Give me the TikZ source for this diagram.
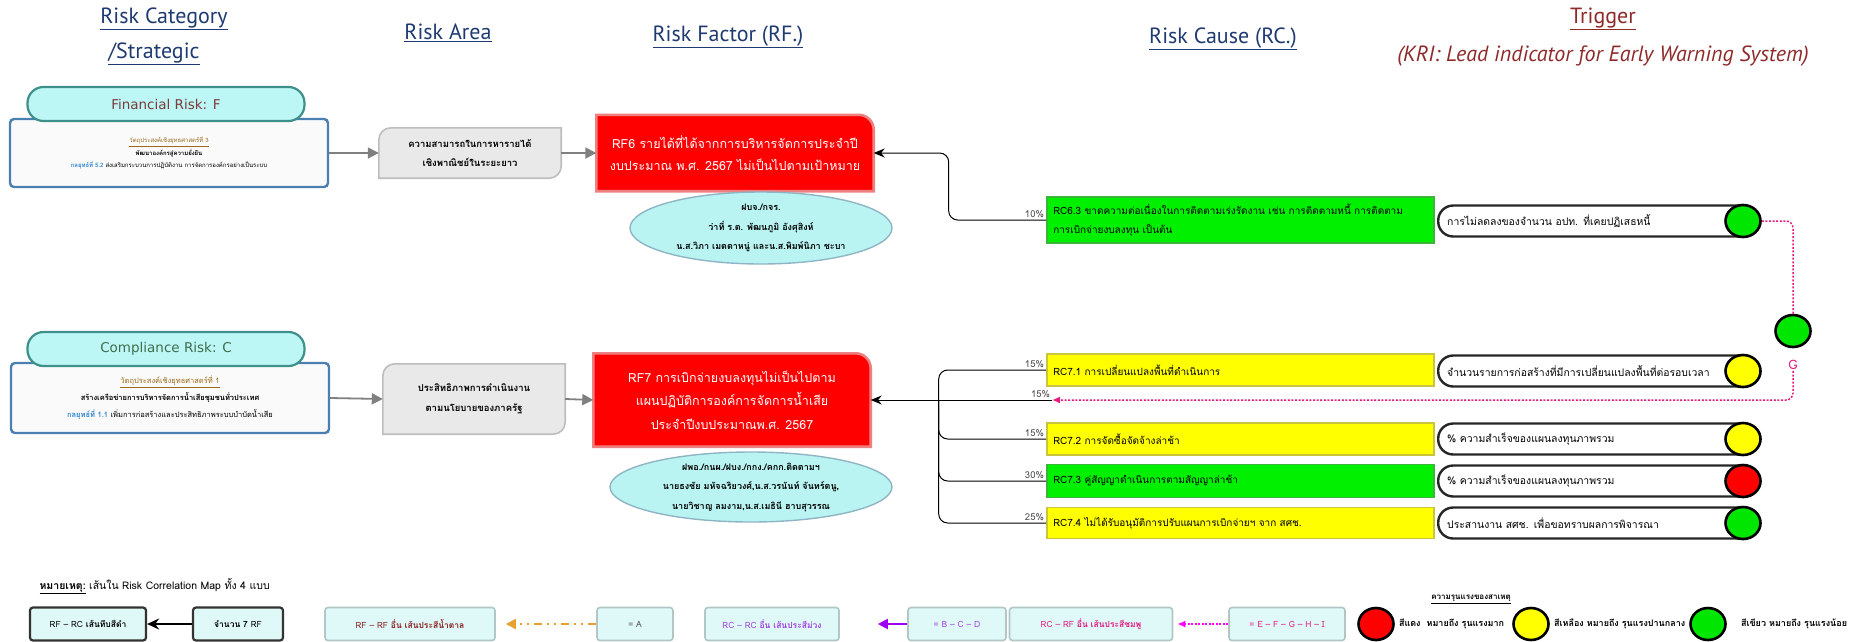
\documentclass[tikz,border=0pt]{standalone}
\usepackage{fontspec}
\setmainfont[Script=Thai]{Loma}
\newfontfamily\headfont{PT Sans}
\newfontfamily\pillfont{DejaVu Sans}
\usetikzlibrary{arrows.meta, backgrounds, shapes.geometric}

\definecolor{navy}{HTML}{1F3A70}
\definecolor{trigred}{HTML}{8E2A2A}
\definecolor{pillcyan}{HTML}{BDF7F5}
\definecolor{pilledge}{HTML}{3F8F8A}
\definecolor{boxedge}{HTML}{4A7FB0}
\definecolor{finred}{HTML}{7A3A3A}
\definecolor{compgreen}{HTML}{3E6E4E}
\definecolor{goldbrown}{HTML}{9C6A1A}
\definecolor{stratblue}{HTML}{2E86D1}
\definecolor{areafill}{HTML}{E9E9E9}
\definecolor{arealine}{HTML}{BDBDBD}
\definecolor{rfred}{HTML}{FF0000}
\definecolor{rfline}{HTML}{EE8080}
\definecolor{owncyan}{HTML}{B9F4F2}
\definecolor{ownline}{HTML}{8FB5C5}
\definecolor{rcyel}{HTML}{FFFF00}
\definecolor{rcyelline}{HTML}{C9C43C}
\definecolor{rcgrn}{HTML}{00F000}
\definecolor{rcgrnline}{HTML}{3CB43C}
\definecolor{lampgrn}{HTML}{00E600}
\definecolor{lampyel}{HTML}{FFFF00}
\definecolor{lampred}{HTML}{FF0000}
\definecolor{gpink}{HTML}{E6197F}
\definecolor{legfill}{HTML}{DFF8F8}
\definecolor{legline}{HTML}{B3C6C6}
\definecolor{rfbrown}{HTML}{8B1E1E}
\definecolor{rcpurple}{HTML}{A040E0}
\definecolor{lineorange}{HTML}{E8A030}
\definecolor{linepurple}{HTML}{A000F0}
\definecolor{linepink}{HTML}{FF00FF}

\tikzset{
  head/.style={font=\headfont\fontsize{22}{26}\selectfont, text=navy, inner sep=1},
  catpill/.style={rounded corners=16, fill=pillcyan, draw=pilledge, line width=2.2, minimum width=277, minimum height=34, font=\pillfont\fontsize{13.5}{15}\selectfont},
  catbox/.style={rounded corners=4, fill=black!2, draw=boxedge, line width=2.4, minimum width=318, align=center},
  areabox/.style={minimum width=182, align=center, font=\bfseries\fontsize{9.5}{19.5}\selectfont},
  areaedge/.style={fill=areafill, draw=arealine, line width=1.6},
  rfbox/.style={minimum width=277, align=center, text=white},
  rfedge/.style={fill=rfred, draw=rfline, line width=2.6},
  owntext/.style={align=center, font=\bfseries\fontsize{9}{19.5}\selectfont},
  ownedge/.style={fill=owncyan, draw=ownline, line width=1.4},
  rcbox/.style={anchor=west, minimum width=387, text width=374, align=left, line width=1.6, font=\fontsize{10}{19}\selectfont},
  trigbox/.style={anchor=west, rounded corners=15, fill=white, draw=black!85, line width=2.4, minimum width=318, minimum height=31, text width=300, align=left, font=\fontsize{10.4}{13}\selectfont},
  lamp/.style={ellipse, draw=black, line width=2.6, minimum width=35, minimum height=32, inner sep=0},
  pct/.style={anchor=south east, inner sep=1.5, text=black!70, font=\fontsize{9.5}{11}\selectfont},
  rcline/.style={line width=1, rounded corners=9},
  gline/.style={draw=gpink, line width=1.5, dash pattern=on 2pt off 1.6pt, rounded corners=7},
  grayarrow/.style={draw=black!50, line width=1.8, -{Triangle[length=11pt, width=11pt]}},
  legbox/.style={rounded corners=3, fill=legfill, draw=legline, line width=1.6, minimum height=33, font=\fontsize{8.5}{10}\selectfont},
  legtext/.style={anchor=west, inner sep=0, font=\bfseries\fontsize{9}{11}\selectfont},
}

\begin{document}
\begin{tikzpicture}[x=1pt, y=-1pt]
  \useasboundingbox (0,0) rectangle (1860,641);
  %column heads
  \node[head] at (164,19) (HCat){\underline{Risk Category}};
  \node[head] at (154,54) (HStr){\underline{/Strategic}};
  \node[head] at (448,33) (HArea){\underline{Risk Area}};
  \node[head] at (728,37) (HRF){\underline{Risk Factor (RF.)}};
  \node[head] at (1223,39) (HRC){\underline{Risk Cause (RC.)}};
  \node[head, text=trigred] at (1603,19) (HTrig){\underline{Trigger}};
  \node[head, text=trigred, font=\headfont\itshape\fontsize{22}{26}\selectfont] at (1603,56) (HKRI){(KRI: Lead indicator for Early Warning System)};

  %financial risk
  \node[catbox, minimum height=68, font=\fontsize{6}{12.5}\selectfont] at (169,153) (BoxF){\textcolor{goldbrown}{\underline{วัตถุประสงค์เชิงยุทธศาสตร์ที่ 3}}\\ \textbf{พัฒนาองค์กรสู่ความยั่งยืน}\\ \textcolor{stratblue}{\textbf{กลยุทธ์ที่ 5.2}} ส่งเสริมกระบวนการปฏิบัติงาน การจัดการองค์กรอย่างเป็นระบบ};
  \node[catpill, text=finred] at (166,104) (CatF){Financial Risk: F};
  \node[areabox, minimum height=50] at (470,153) (AreaF){ความสามารถในการหารายได้\\เชิงพาณิชย์ในระยะยาว};
  \node[rfbox, minimum height=76, font=\fontsize{12.5}{22}\selectfont] at (735,153) (RF6){RF6 รายได้ที่ได้จากการบริหารจัดการประจำปี\\งบประมาณ พ.ศ. 2567 ไม่เป็นไปตามเป้าหมาย};
  \node[owntext] at (761,228) (Own6){ฝบจ./กจร.\\ว่าที่ ร.ต. พัฒนภูมิ อังศุสิงห์\\น.ส.วิภา เมตตาหนู่ และน.ส.พิมพ์นิภา ชะบา};
  \node[rcbox, fill=rcgrn, draw=rcgrnline, minimum height=46] at (1046,220) (RC63){RC6.3 ขาดความต่อเนื่องในการติดตามเร่งรัดงาน เช่น การติดตามหนี้ การติดตาม\\การเบิกจ่ายงบลงทุน เป็นต้น};
  \node[trigbox] at (1437,221) (T63){การไม่ลดลงของจำนวน อปท. ที่เคยปฏิเสธหนี้};
  \node[lamp, fill=lampgrn] at (1743,221) (L63){};

  %compliance risk
  \node[catbox, minimum height=70, font=\fontsize{7.5}{17}\selectfont] at (170,398) (BoxC){\textcolor{goldbrown}{\underline{วัตถุประสงค์เชิงยุทธศาสตร์ที่ 1}}\\ \textbf{สร้างเครือข่ายการบริหารจัดการน้ำเสียชุมชนทั่วประเทศ}\\ \textcolor{stratblue}{\textbf{กลยุทธ์ที่ 1.1}} เพิ่มการก่อสร้างและประสิทธิภาพระบบบำบัดน้ำเสีย};
  \node[catpill, text=compgreen] at (166,349) (CatC){Compliance Risk: C};
  \node[areabox, minimum height=70] at (474,399) (AreaC){ประสิทธิภาพการดำเนินงาน\\ตามนโยบายของภาครัฐ};
  \node[rfbox, minimum height=93, font=\fontsize{12.5}{23.5}\selectfont] at (732,400) (RF7){RF7 การเบิกจ่ายงบลงทุนไม่เป็นไปตาม\\แผนปฏิบัติการองค์การจัดการน้ำเสีย\\ประจำปีงบประมาณพ.ศ. 2567};
  \node[owntext] at (751,487) (Own7){ฝพอ./กนผ./ฝบง./กกง./คกก.ติดตามฯ\\นายธงชัย มหัจฉริยวงศ์,น.ส.วรนันท์ จันทร์ตนู,\\นายวิชาญ ลมงาม,น.ส.เมธินี ฮาบสุวรรณ};
  \node[rcbox, fill=rcyel, draw=rcyelline, minimum height=32] at (1046,370) (RC71){RC7.1 การเปลี่ยนแปลงพื้นที่ดำเนินการ};
  \node[rcbox, fill=rcyel, draw=rcyelline, minimum height=32] at (1046,439) (RC72){RC7.2 การจัดซื้อจัดจ้างล่าช้า};
  \node[rcbox, fill=rcgrn, draw=rcgrnline, minimum height=33] at (1046,481) (RC73){RC7.3 คู่สัญญาดำเนินการตามสัญญาล่าช้า};
  \node[rcbox, fill=rcyel, draw=rcyelline, minimum height=31] at (1046,523) (RC74){RC7.4 ไม่ได้รับอนุมัติการปรับแผนการเบิกจ่ายฯ จาก สศช.};
  \node[trigbox] at (1437,371) (T71){จำนวนรายการก่อสร้างที่มีการเปลี่ยนแปลงพื้นที่ต่อรอบเวลา};
  \node[trigbox] at (1437,439) (T72){\% ความสำเร็จของแผนลงทุนภาพรวม};
  \node[trigbox] at (1437,481) (T73){\% ความสำเร็จของแผนลงทุนภาพรวม};
  \node[trigbox] at (1437,523) (T74){ประสานงาน สศช. เพื่อขอทราบผลการพิจารณา};
  \node[lamp, fill=lampyel] at (1743,371) (L71){};
  \node[lamp, fill=lampyel] at (1743,439) (L72){};
  \node[lamp, fill=lampred] at (1743,481) (L73){};
  \node[lamp, fill=lampgrn] at (1743,523) (L74){};
  \node[lamp, fill=lampgrn] at (1793,331) (G){};
  \node[text=gpink, font=\fontsize{13}{15}\selectfont, inner sep=1] at (1793,365) (GL){G};
  \coordinate (P15) at (1052,400);
  \coordinate (J7) at ([xshift=68]RF7.east);

  %shapes behind the texts
  \begin{scope}[on background layer]
    \filldraw[areaedge] (AreaF.south west) -- ([yshift=-12]AreaF.north west) arc[start angle=180, end angle=90, radius=12pt] -- (AreaF.north east) -- ([yshift=12]AreaF.south east) arc[start angle=0, end angle=-90, radius=12pt] -- cycle;
    \filldraw[areaedge] (AreaC.south west) -- ([yshift=-12]AreaC.north west) arc[start angle=180, end angle=90, radius=12pt] -- (AreaC.north east) -- ([yshift=12]AreaC.south east) arc[start angle=0, end angle=-90, radius=12pt] -- cycle;
    \filldraw[rfedge] (RF6.south west) -- (RF6.north west) -- ([xshift=-15]RF6.north east) arc[start angle=90, end angle=0, radius=15pt] -- (RF6.south east) -- cycle;
    \filldraw[rfedge] (RF7.south west) -- (RF7.north west) -- ([xshift=-15]RF7.north east) arc[start angle=90, end angle=0, radius=15pt] -- (RF7.south east) -- cycle;
    \filldraw[ownedge] (Own6.center) ellipse [x radius=131, y radius=36];
    \filldraw[ownedge] (Own7.center) ellipse [x radius=141, y radius=35];
  \end{scope}

  %connectors
  \draw[grayarrow] (BoxF.east) -- (AreaF.west);
  \draw[grayarrow] (AreaF.east) -- (RF6.west);
  \draw[grayarrow] (BoxC.east) -- (AreaC.west);
  \draw[grayarrow] (AreaC.east) -- (RF7.west);
  \draw[rcline, -{Stealth[length=11pt, width=9pt]}] (RC63.west) node[pct]{10\%} -| ([xshift=75]RF6.east) -- (RF6.east);
  \draw[rcline] (RC71.west) node[pct]{15\%} -| (J7);
  \draw[rcline] (RC72.west) node[pct]{15\%} -| (J7);
  \draw[rcline] (RC73.west) node[pct]{30\%} -| (J7);
  \draw[rcline] (RC74.west) node[pct]{25\%} -| (J7);
  \draw[rcline, -{Stealth[length=11pt, width=9pt]}] (P15) node[pct]{15\%} -- (RF7.east);
  \draw[gline] (L63.east) -| (G.north);
  \draw[gline, -{Latex[length=8pt, width=7pt]}] (GL.south) |- (P15);

  %legend
  \node[anchor=west, font=\fontsize{10.5}{12}\selectfont] at (36,586) (Note){\underline{\textbf{หมายเหตุ:}} เส้นใน Risk Correlation Map ทั้ง 4 แบบ};
  \node[legbox, draw=black!80, line width=2.2, minimum width=116] at (88,624) (Leg1){RF – RC \textbf{เส้นทึบสีดำ}};
  \node[legbox, draw=black!80, line width=2.2, minimum width=90] at (238,624) (Leg2){\textbf{จำนวน 7} RF};
  \draw[line width=2.2, -{Stealth[length=12pt, width=11pt]}] (Leg2) -- (Leg1);
  \node[legbox, minimum width=170, text=rfbrown] at (410,624) (Leg3){RF – RF \textbf{อื่น เส้นประสีน้ำตาล}};
  \node[legbox, minimum width=76, text=black!65] at (635,624) (Leg4){= A};
  \draw[draw=lineorange, line width=2, dash pattern=on 8pt off 5pt on 2pt off 5pt on 2pt off 5pt, -{Triangle[length=10pt, width=10pt]}, shorten >=10] (Leg4) -- (Leg3);
  \node[legbox, minimum width=134, text=rcpurple] at (772,624) (Leg5){RC – RC \textbf{อื่น เส้นประสีม่วง}};
  \node[legbox, minimum width=98, text=rcpurple] at (957,624) (Leg6){= B – C – D};
  \draw[draw=linepurple, line width=2, -{Triangle[length=10pt, width=10pt]}, shorten >=38] (Leg6) -- (Leg5);
  \node[legbox, minimum width=163, text=gpink] at (1091,624) (Leg7){RC – RF \textbf{อื่น เส้นประสีชมพู}};
  \node[legbox, minimum width=116, text=gpink] at (1287,624) (Leg8){= E – F – G – H – I};
  \draw[draw=linepink, line width=1.5, dash pattern=on 2pt off 1.5pt, -{Latex[length=8pt, width=7pt]}, shorten >=4] (Leg8) -- (Leg7);
  \node[font=\bfseries\fontsize{8}{10}\selectfont] at (1471,599) (SevHead){\underline{ความรุนแรงของสาเหตุ}};
  \node[lamp, fill=lampred] at (1376,624) (SevR){};
  \node[legtext] at ([xshift=4]SevR.east) (SevRT){สีแดง\ \ หมายถึง รุนแรงมาก};
  \node[lamp, fill=lampyel] at (1531,624) (SevY){};
  \node[legtext] at ([xshift=4]SevY.east) (SevYT){สีเหลือง หมายถึง รุนแรงปานกลาง};
  \node[lamp, fill=lampgrn] at (1708,624) (SevG){};
  \node[legtext] at ([xshift=14]SevG.east) (SevGT){สีเขียว หมายถึง รุนแรงน้อย};
\end{tikzpicture}
\end{document}
